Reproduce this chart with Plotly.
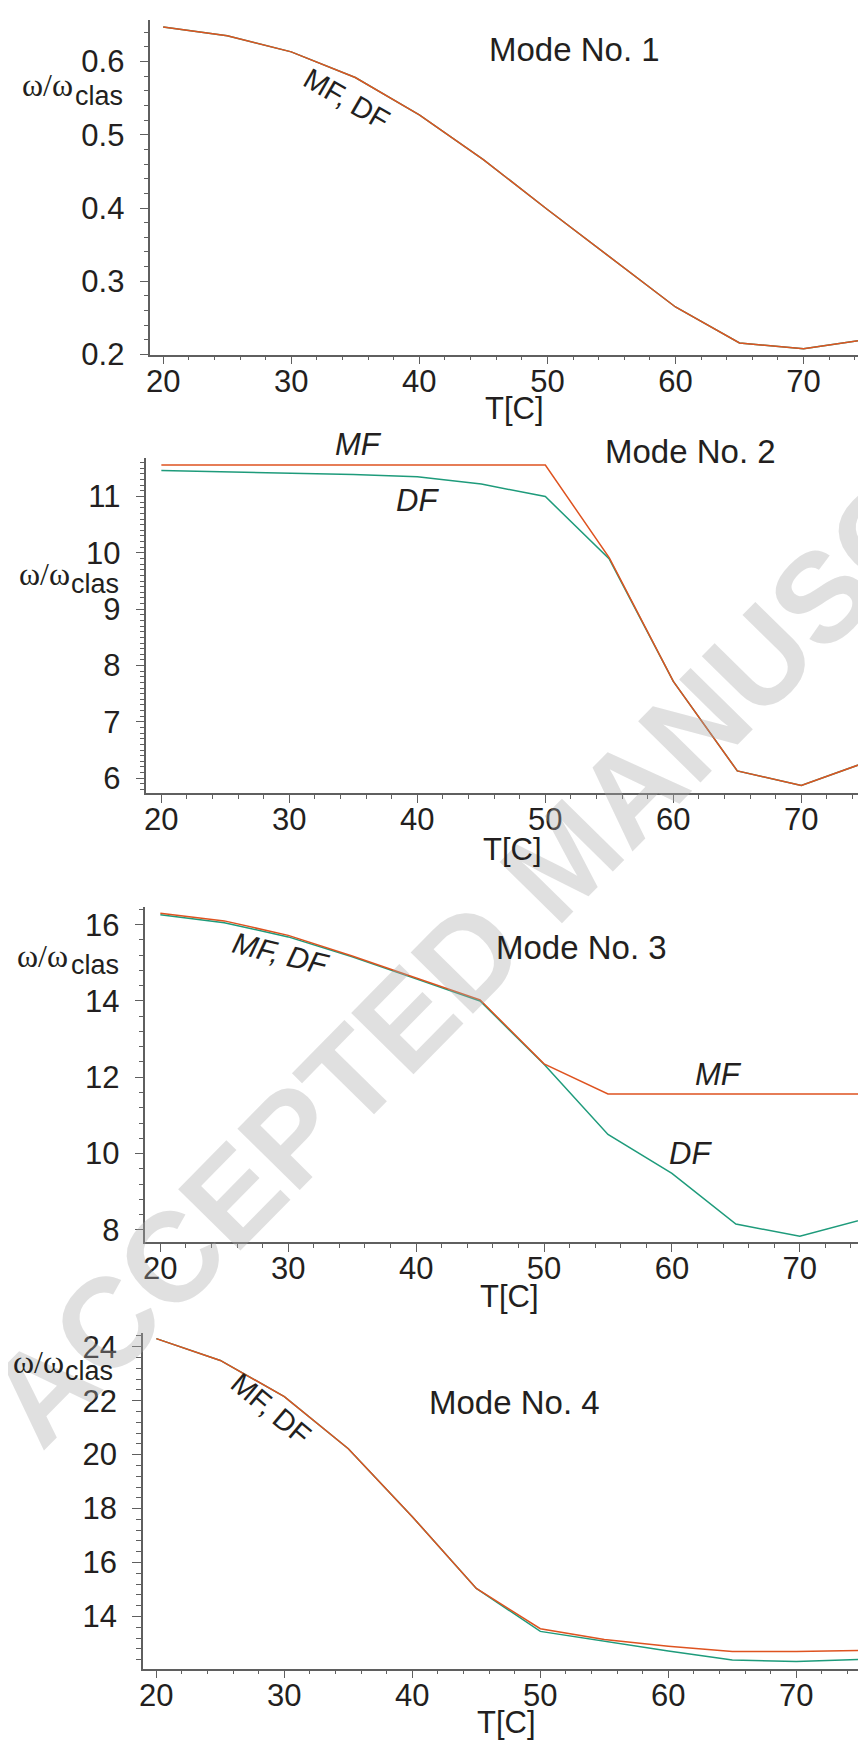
import plotly.graph_objects as go

W, H = 866, 1750

# ---------------- data ----------------
T = [20, 25, 30, 35, 40, 45, 50, 55, 60, 65, 70, 75]

mode1_mf = [0.647, 0.635, 0.613, 0.578, 0.527, 0.466, 0.398, 0.331, 0.265, 0.216, 0.208, 0.221]
mode1_df = [0.647, 0.635, 0.613, 0.578, 0.527, 0.466, 0.398, 0.331, 0.265, 0.216, 0.208, 0.221]

mode2_mf = [11.56, 11.56, 11.56, 11.56, 11.56, 11.56, 11.56, 9.91, 7.72, 6.13, 5.87, 6.28]
mode2_df = [11.46, 11.44, 11.42, 11.39, 11.35, 11.22, 11.00, 9.89, 7.72, 6.13, 5.87, 6.28]

mode3_mf = [16.30, 16.10, 15.72, 15.18, 14.60, 14.03, 12.35, 11.56, 11.56, 11.56, 11.56, 11.56]
mode3_df = [16.26, 16.05, 15.68, 15.16, 14.58, 14.00, 12.34, 10.50, 9.48, 8.15, 7.83, 8.28]

mode4_mf = [24.30, 23.49, 22.15, 20.22, 17.70, 15.04, 13.55, 13.15, 12.90, 12.70, 12.70, 12.74]
mode4_df = [24.30, 23.49, 22.15, 20.22, 17.70, 15.04, 13.45, 13.09, 12.72, 12.39, 12.33, 12.41]

mode_titles = ["Mode No. 1", "Mode No. 2", "Mode No. 3", "Mode No. 4"]
x_title = "T[C]"
x_ticks = [20, 30, 40, 50, 60, 70]

# ---------------- style ----------------
ORANGE = "#DE5320"
GREEN = "#1E9B7B"
AXIS = "#5f5f5f"
TXT = "#231f20"
SANS = "Liberation Sans, Arial, sans-serif"
SERIF = "Liberation Serif, Times New Roman, serif"

panels = [
    dict(mf=mode1_mf, df=mode1_df, xr=[19.0, 75.5], xd=[139 / W, 1], yr=[0.2, 0.6566],
         yd=[1 - 347 / H, 1 - 8 / H], dtick=0.1, mdtick=0.02, tick0=0.2),
    dict(mf=mode2_mf, df=mode2_df, xr=[18.83, 75.68], xd=[135 / W, 1], yr=[5.737, 11.683],
         yd=[1 - 791 / H, 1 - 451.7 / H], dtick=1, mdtick=0.1, tick0=6),
    dict(mf=mode3_mf, df=mode3_df, xr=[18.83, 75.8], xd=[134 / W, 1], yr=[7.679, 16.456],
         yd=[1 - 1245.7 / H, 1 - 906.7 / H], dtick=2, mdtick=0.4, tick0=8),
    dict(mf=mode4_mf, df=mode4_df, xr=[18.95, 76.07], xd=[131.5 / W, 1], yr=[12.07, 24.49],
         yd=[1 - 1677.7 / H, 1 - 1338.3 / H], dtick=2, mdtick=0.4, tick0=14),
]

fig = go.Figure()
layout = dict(
    width=W, height=H, margin=dict(l=0, r=0, t=0, b=0),
    paper_bgcolor="white", plot_bgcolor="rgba(0,0,0,0)",
    showlegend=False, font=dict(family=SANS, color=TXT),
)

for i, p in enumerate(panels):
    n = "" if i == 0 else str(i + 1)
    xa, ya = "x" + n, "y" + n
    fig.add_trace(go.Scatter(x=T, y=p["df"], mode="lines", xaxis=xa, yaxis=ya,
                             line=dict(color=GREEN, width=1.5), cliponaxis=False))
    fig.add_trace(go.Scatter(x=T, y=p["mf"], mode="lines", xaxis=xa, yaxis=ya,
                             line=dict(color=ORANGE, width=1.5), cliponaxis=False))
    layout["xaxis" + n] = dict(
        domain=p["xd"], range=p["xr"], anchor=ya, showgrid=False, zeroline=False,
        showline=True, linecolor=AXIS, linewidth=1.5,
        tickmode="array", tickvals=x_ticks, ticks="outside", ticklen=8, tickwidth=1.2,
        tickcolor=AXIS, tickfont=dict(family=SANS, size=31, color=TXT),
        ticklabelstandoff=-10,
        minor=dict(dtick=2, tick0=20, ticks="outside", ticklen=4, tickwidth=1, tickcolor=AXIS),
    )
    layout["yaxis" + n] = dict(
        domain=p["yd"], range=p["yr"], anchor=xa, showgrid=False, zeroline=False,
        showline=True, linecolor=AXIS, linewidth=1.5,
        tick0=p["tick0"], dtick=p["dtick"], ticks="outside", ticklen=9, tickwidth=1.2,
        tickcolor=AXIS, tickfont=dict(family=SANS, size=31, color=TXT),
        ticklabelstandoff=9,
        minor=dict(dtick=p["mdtick"], tick0=p["tick0"], ticks="outside", ticklen=5,
                   tickwidth=1, tickcolor=AXIS),
    )


def px(x, y):
    return x / W, 1 - y / H


annotations = []


def label(text, cx, cy, size=31, angle=0, italic=False, family=SANS, xanchor="center"):
    xx, yy = px(cx, cy)
    annotations.append(dict(
        text=text, x=xx, y=yy, xref="paper", yref="paper", showarrow=False,
        xanchor=xanchor, yanchor="middle", textangle=angle, borderpad=0,
        font=dict(family=family, size=size, color=TXT, style="italic" if italic else "normal"),
    ))


# watermark (drawn first)
wx, wy = px(555, 857)
annotations.append(dict(
    text="ACCEPTED MANUSCRIPT", x=wx, y=wy, xref="paper", yref="paper", showarrow=False,
    xanchor="center", yanchor="middle", textangle=-45.5,
    font=dict(family=SANS, size=127, weight=700, color="rgba(170,170,170,0.36)"),
))

# y-axis titles: omega/omega_clas
omega_pos = [(9, 83, 62, 94), (6, 578, 58, 588), (4, 965, 58, 974), (0, 1376, 52, 1385)]
for (ox, ob, cx, cb) in omega_pos:
    label("ω/ω", ox, ob - 9, size=32, family=SERIF, xanchor="left")
    label("clas", cx, cb - 9, size=27, xanchor="left")

# x-axis titles
for (cx, cy) in [(505, 402), (503, 848), (500, 1301), (497, 1732)]:
    label(x_title, cx, cy, size=31)

# mode titles
for t, (cx, cy) in zip(mode_titles, [(565, 38), (682, 445), (572, 947), (505, 1408)]):
    label(t, cx, cy, size=33)

# curve labels
label("MF, DF", 336, 88, size=29, angle=30)
label("MF", 348, 438, size=31, italic=True)
label("DF", 407, 495, size=31, italic=True)
label("MF, DF", 270, 953, size=30, angle=14, italic=True)
label("MF", 710, 1076, size=31, italic=True)
label("DF", 682, 1156, size=31, italic=True)
label("MF, DF", 260, 1415, size=29, angle=40)

layout["annotations"] = annotations
fig.update_layout(**layout)
fig.write_html("out.html")
